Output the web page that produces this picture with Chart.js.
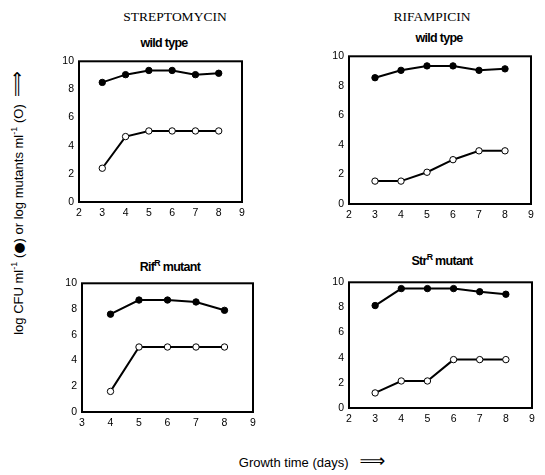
<!DOCTYPE html>
<html><head><meta charset="utf-8">
<script src="https://cdn.jsdelivr.net/npm/chart.js@4"></script>
<style>
body{margin:0;background:#fff;width:545px;height:475px;position:relative;overflow:hidden;font-family:"Liberation Sans",Arial,sans-serif;color:#000}
canvas{position:absolute}
.t{position:absolute;white-space:nowrap;transform:translate(-50%,-50%)}
.drug{font-family:"Liberation Serif","Times New Roman",serif;font-size:13.5px}
.sub{font-weight:bold;font-size:12.5px;letter-spacing:-0.7px}
sup{font-size:70%;line-height:0}
.arr{font-family:"DejaVu Sans";font-size:18px;display:inline-block}
.dot{font-family:"DejaVu Sans";font-size:13px}
</style></head><body>
<div class="t drug" style="left:175px;top:17px">STREPTOMYCIN</div>
<div class="t drug" style="left:432px;top:17px">RIFAMPICIN</div>
<div class="t sub" style="left:164px;top:43px">wild type</div>
<div class="t sub" style="left:439px;top:38px">wild type</div>
<div class="t sub" style="left:170px;top:267px">Rif<sup>R</sup> mutant</div>
<div class="t sub" style="left:442px;top:261px">Str<sup>R</sup> mutant</div>
<div class="t" style="left:16px;top:203px;transform:translate(-50%,-50%) rotate(-90deg);font-size:13px">log CFU ml<sup>-1</sup> (<span class="dot">●</span>) or log mutants ml<sup>-1</sup> (O) &nbsp;<span class="arr">⟹</span></div>
<div class="t" style="left:312px;top:460px;font-size:13px">Growth time (days) &nbsp;&nbsp;<span class="arr">⟹</span></div>
<canvas id="c1" width="195" height="170" style="left:55px;top:50px"></canvas>
<canvas id="c2" width="215" height="177" style="left:325px;top:45px"></canvas>
<canvas id="c3" width="203" height="158" style="left:58px;top:272px"></canvas>
<canvas id="c4" width="216" height="155" style="left:325px;top:271px"></canvas>
<script>
// Streptomycin, wild type
const strWtDays = [3, 4, 5, 6, 7, 8];
const strWtCfu = [8.5, 9.05, 9.35, 9.35, 9.05, 9.15];
const strWtMutants = [2.4, 4.65, 5.05, 5.05, 5.05, 5.05];
// Rifampicin, wild type
const rifWtDays = [3, 4, 5, 6, 7, 8];
const rifWtCfu = [8.55, 9.05, 9.35, 9.35, 9.05, 9.15];
const rifWtMutants = [1.55, 1.55, 2.15, 3.0, 3.6, 3.6];
// Streptomycin, RifR mutant
const rifRDays = [4, 5, 6, 7, 8];
const rifRCfu = [7.6, 8.7, 8.7, 8.55, 7.9];
const rifRMutants = [1.6, 5.05, 5.05, 5.05, 5.05];
// Rifampicin, StrR mutant
const strRDays = [3, 4, 5, 6, 7, 8];
const strRCfu = [8.15, 9.5, 9.5, 9.5, 9.25, 9.05];
const strRMutants = [1.2, 2.15, 2.15, 3.85, 3.85, 3.85];
const yTicks = [0, 2, 4, 6, 8, 10];

Chart.defaults.font.family = '"Liberation Sans", Arial, sans-serif';
Chart.defaults.font.size = 10.5;
Chart.defaults.color = '#000';

const boxPlugin = {
  id: 'box',
  afterDraw(chart) {
    const a = chart.chartArea, ctx = chart.ctx;
    ctx.save();
    ctx.strokeStyle = '#000';
    ctx.lineWidth = 2;
    ctx.strokeRect(a.left, a.top, a.right - a.left, a.bottom - a.top);
    ctx.restore();
  }
};

function pts(days, vals) { return days.map((d, i) => ({x: d, y: vals[i]})); }

function make(id, days, cfu, mut, xmin, xmax, pad) {
  new Chart(document.getElementById(id), {
    type: 'line',
    data: {
      datasets: [
        {data: pts(days, cfu), borderColor: '#000', borderWidth: 2, backgroundColor: '#000',
         pointBackgroundColor: '#000', pointBorderColor: '#000', pointRadius: 3.2, pointBorderWidth: 1, tension: 0},
        {data: pts(days, mut), borderColor: '#000', borderWidth: 2, backgroundColor: '#fff',
         pointBackgroundColor: '#fff', pointBorderColor: '#000', pointRadius: 3.2, pointBorderWidth: 1, tension: 0}
      ]
    },
    options: {
      responsive: false, animation: false, devicePixelRatio: 1,
      layout: {padding: {top: pad.top, right: pad.right, left: 0, bottom: 0}},
      plugins: {legend: {display: false}, tooltip: {enabled: false}, title: {display: false}},
      scales: {
        x: {type: 'linear', min: xmin, max: xmax,
            grid: {display: false, drawTicks: false}, border: {display: false},
            ticks: {stepSize: 1, padding: 5},
            afterFit(s) { s.height = 18; }},
        y: {type: 'linear', min: 0, max: 10,
            grid: {display: false, drawTicks: false}, border: {display: false},
            afterBuildTicks(s) { s.ticks = yTicks.map(v => ({value: v})); },
            ticks: {padding: 5},
            afterFit(s) { s.width = 24; }}
      }
    },
    plugins: [boxPlugin]
  });
}

make('c1', strWtDays, strWtCfu, strWtMutants, 2, 9, {top: 7, right: 8});
make('c2', rifWtDays, rifWtCfu, rifWtMutants, 2, 9, {top: 7, right: 9});
make('c3', rifRDays, rifRCfu, rifRMutants, 3, 9, {top: 7, right: 8});
make('c4', strRDays, strRCfu, strRMutants, 2, 9, {top: 7, right: 9});
</script>
</body></html>
